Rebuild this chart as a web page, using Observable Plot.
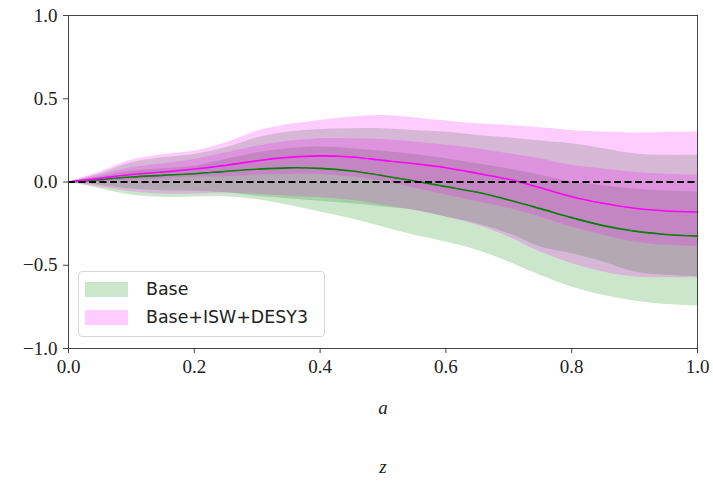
<!DOCTYPE html>
<html>
<head>
<meta charset="utf-8">
<script src="https://cdn.jsdelivr.net/npm/d3@7"></script>
<script src="https://cdn.jsdelivr.net/npm/@observablehq/plot@0.6"></script>
<style>
  body { margin: 0; background: #fff; }
  #wrap { position: relative; width: 713px; height: 488px; }
  #wrap svg text { font-family: "Liberation Serif", "DejaVu Serif", serif; }
  .legend {
    position: absolute; left: 78px; top: 271px; width: 245px; height: 64px;
    border: 1px solid #d8d8d8; border-radius: 4px; background: rgba(255,255,255,0.8);
    font-family: "DejaVu Sans", sans-serif; font-size: 17.4px; color: #222;
  }
  .legend .row { position: absolute; left: 6px; display: flex; align-items: center; }
  .legend .sw { width: 43px; height: 15px; margin-right: 18px; }
</style>
</head>
<body>
<div id="wrap"></div>
<script>
// scale factor a
const a = [0, 0.05, 0.1, 0.15, 0.2, 0.25, 0.3, 0.35, 0.4, 0.45, 0.5,
           0.55, 0.6, 0.65, 0.7, 0.75, 0.8, 0.85, 0.9, 0.95, 1.0];

// Base: mean and 1σ / 2σ limits
const baseMean = [0, 0.014, 0.03, 0.04, 0.05, 0.064, 0.077, 0.085, 0.082, 0.066, 0.038,
                  0.006, -0.028, -0.062, -0.108, -0.16, -0.214, -0.262, -0.295, -0.315, -0.325];
const base1Hi = [0, 0.03, 0.065, 0.08, 0.095, 0.135, 0.175, 0.2, 0.21, 0.2, 0.185,
                 0.165, 0.14, 0.11, 0.08, 0.04, 0.0, -0.022, -0.042, -0.054, -0.06];
const base1Lo = [0, -0.02, -0.042, -0.052, -0.056, -0.065, -0.085, -0.1, -0.115, -0.13, -0.15,
                 -0.17, -0.21, -0.25, -0.31, -0.39, -0.43, -0.48, -0.54, -0.56, -0.57];
const base2Hi = [0, 0.05, 0.115, 0.145, 0.165, 0.205, 0.265, 0.3, 0.316, 0.32, 0.32,
                 0.31, 0.3, 0.28, 0.266, 0.246, 0.23, 0.2, 0.17, 0.16, 0.16];
const base2Lo = [0, -0.04, -0.078, -0.092, -0.09, -0.088, -0.105, -0.14, -0.18, -0.22, -0.27,
                 -0.32, -0.36, -0.41, -0.48, -0.56, -0.63, -0.68, -0.715, -0.735, -0.745];

// Base+ISW+DESY3: mean and 1σ / 2σ limits
const combMean = [0, 0.022, 0.045, 0.06, 0.078, 0.1, 0.128, 0.148, 0.157, 0.15, 0.13,
                  0.11, 0.086, 0.052, 0.016, -0.035, -0.088, -0.128, -0.158, -0.174, -0.18];
const comb1Hi = [0, 0.04, 0.085, 0.11, 0.135, 0.175, 0.215, 0.245, 0.26, 0.26, 0.255,
                 0.24, 0.22, 0.2, 0.17, 0.14, 0.1, 0.078, 0.058, 0.046, 0.04];
const comb1Lo = [0, 0.0, 0.01, 0.02, 0.028, 0.032, 0.04, 0.045, 0.045, 0.03, 0.005,
                 -0.038, -0.078, -0.118, -0.158, -0.21, -0.27, -0.32, -0.36, -0.38, -0.39];
const comb2Hi = [0, 0.06, 0.13, 0.165, 0.185, 0.235, 0.305, 0.345, 0.37, 0.39, 0.4,
                 0.386, 0.366, 0.35, 0.34, 0.326, 0.31, 0.3, 0.295, 0.298, 0.3];
const comb2Lo = [0, -0.03, -0.058, -0.072, -0.072, -0.066, -0.075, -0.085, -0.095, -0.11, -0.14,
                 -0.17, -0.21, -0.26, -0.33, -0.42, -0.49, -0.54, -0.57, -0.575, -0.575];

const xTicks = [0, 0.2, 0.4, 0.6, 0.8, 1.0];
const yTicks = [-1, -0.5, 0, 0.5, 1];
const seriesNames = ["Base", "Base+ISW+DESY3"];
const seriesColors = ["green", "magenta"];

const rows = a.map((v, i) => ({
  a: v,
  bm: baseMean[i], b1h: base1Hi[i], b1l: base1Lo[i], b2h: base2Hi[i], b2l: base2Lo[i],
  cm: combMean[i], c1h: comb1Hi[i], c1l: comb1Lo[i], c2h: comb2Hi[i], c2l: comb2Lo[i]
}));

const serif = "Liberation Serif, DejaVu Serif, serif";
const curve = "catmull-rom";
const band = (lo, hi, color) =>
  Plot.areaY(rows, {x: "a", y1: lo, y2: hi, fill: color, fillOpacity: 0.2, curve});

const chart = Plot.plot({
  width: 713,
  height: 488,
  marginLeft: 68,
  marginRight: 16,
  marginTop: 15,
  marginBottom: 140,
  style: {fontFamily: serif, fontSize: "19px", color: "#222", background: "white"},
  x: {domain: [0, 1]},
  y: {domain: [-1, 1]},
  marks: [
    band("b2l", "b2h", seriesColors[0]),
    band("b1l", "b1h", seriesColors[0]),
    band("c2l", "c2h", seriesColors[1]),
    band("c1l", "c1h", seriesColors[1]),
    Plot.lineY(rows, {x: "a", y: "bm", stroke: seriesColors[0], strokeWidth: 1.6, curve}),
    Plot.lineY(rows, {x: "a", y: "cm", stroke: seriesColors[1], strokeWidth: 1.6, curve}),
    Plot.ruleY([0], {stroke: "black", strokeWidth: 1.8, strokeDasharray: "7,3.5"}),
    Plot.frame({stroke: "#444", strokeWidth: 1}),
    Plot.axisX({ticks: xTicks, tickFormat: d3.format(".1f"), tickSize: 5, tickPadding: 6,
                label: null, stroke: "#444", fontFamily: serif, fontSize: 19}),
    Plot.axisY({ticks: yTicks, tickFormat: d3.format(".1f"), tickSize: 5, tickPadding: 6,
                label: null, stroke: "#444", fontFamily: serif, fontSize: 19}),
    Plot.text(["a"], {frameAnchor: "bottom", dy: 59, fontStyle: "italic", fontSize: 19,
                      fontFamily: serif, fill: "#222", lineAnchor: "middle"}),
    Plot.text(["z"], {frameAnchor: "bottom", dy: 118, fontStyle: "italic", fontSize: 19,
                      fontFamily: serif, fill: "#222", lineAnchor: "middle"})
  ]
});

const wrap = document.getElementById("wrap");
wrap.appendChild(chart);

// legend drawn inside the frame, lower left
const legend = document.createElement("div");
legend.className = "legend";
seriesNames.forEach((name, i) => {
  const row = document.createElement("div");
  row.className = "row";
  row.style.top = (i === 0 ? 7 : 35) + "px";
  const sw = document.createElement("span");
  sw.className = "sw";
  sw.style.background = seriesColors[i];
  sw.style.opacity = 0.2;
  const label = document.createElement("span");
  label.textContent = name;
  row.appendChild(sw);
  row.appendChild(label);
  legend.appendChild(row);
});
wrap.appendChild(legend);
</script>
</body>
</html>
